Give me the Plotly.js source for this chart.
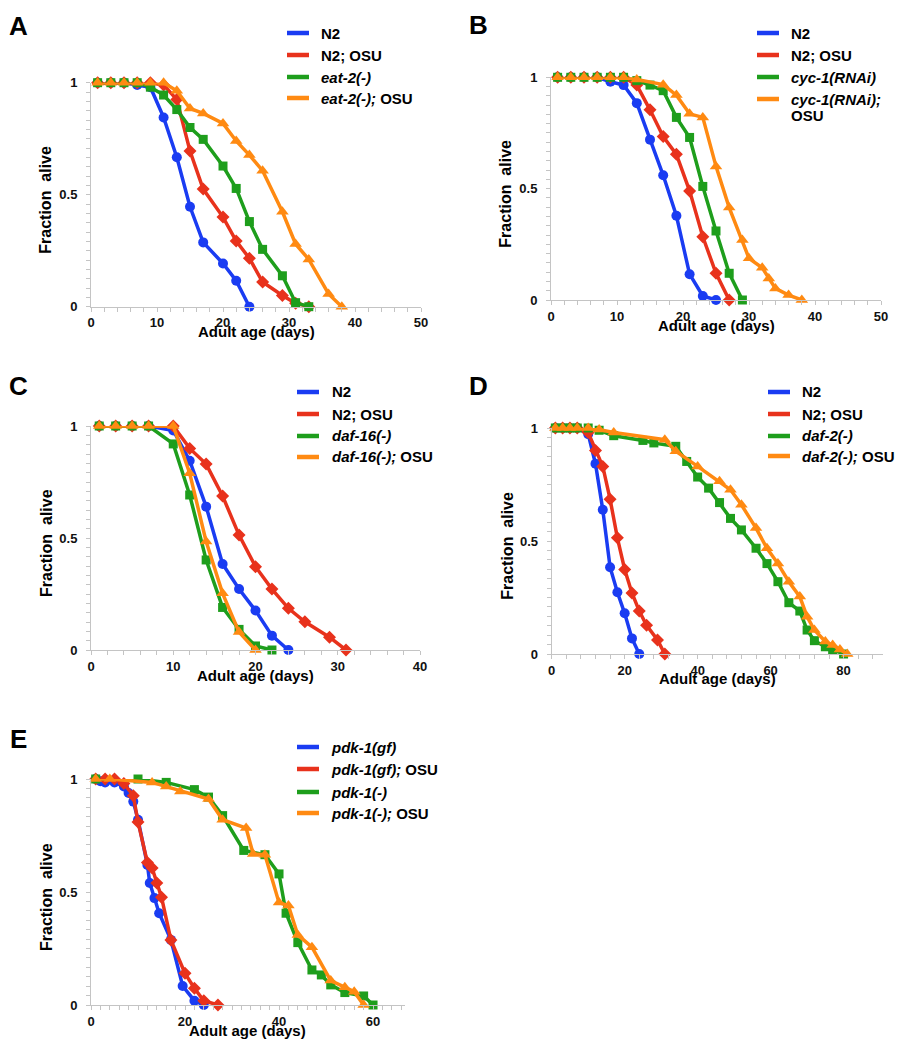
<!DOCTYPE html>
<html>
<head>
<meta charset="utf-8">
<script src="https://cdn.plot.ly/plotly-3.0.1.min.js"></script>
<style>html,body{margin:0;padding:0;background:#fff}#chart{width:905px;height:1050px}</style>
</head>
<body>
<div id="chart"></div>
<script>
// ---------- DATA ----------
// Panel A
const A_N2_days   = [1,3,5,7,9,11,13,15,17,20,22,24];
const A_N2        = [1,1,1,0.99,0.98,0.845,0.667,0.446,0.287,0.193,0.116,0];
const A_N2OSU_days= [1,3,5,7,9,11,13,15,17,20,22,24,26,29,31,33];
const A_N2OSU     = [1,1,1,1,1,0.99,0.925,0.695,0.525,0.40,0.293,0.216,0.11,0.05,0.015,0];
const A_eat_days  = [1,3,5,7,9,11,13,15,17,20,22,24,26,29,31,33];
const A_eat       = [1,1,1,1,0.98,0.945,0.88,0.80,0.747,0.628,0.528,0.38,0.256,0.138,0.018,0];
const A_eatOSU_days=[1,3,5,7,9,11,13,15,17,20,22,24,26,29,31,33,36,38];
const A_eatOSU    = [1,1,1,1,1,1,0.964,0.885,0.863,0.818,0.74,0.677,0.607,0.424,0.28,0.211,0.057,0];
// Panel B
const B_N2_days   = [1,3,5,7,9,11,13,15,17,19,21,23,25];
const B_N2        = [1,1,1,1,0.98,0.965,0.884,0.72,0.56,0.378,0.116,0.018,0];
const B_N2OSU_days= [1,3,5,7,9,11,13,15,17,19,21,23,25,27];
const B_N2OSU     = [1,1,1,1,1,1,0.965,0.854,0.734,0.654,0.49,0.284,0.12,0];
const B_cyc_days  = [1,3,5,7,9,11,13,15,17,19,21,23,25,27,29];
const B_cyc       = [1,1,1,1,1,1,0.985,0.965,0.94,0.82,0.73,0.51,0.31,0.12,0];
const B_cycOSU_days=[1,3,5,7,9,11,13,17,19,21,23,25,27,29,30,32,33,34,36,38];
const B_cycOSU    = [1,1,1,1,1,1,0.99,0.967,0.92,0.836,0.82,0.60,0.415,0.269,0.187,0.145,0.097,0.052,0.022,0];
// Panel C
const C_N2_days   = [1,3,5,7,10,12,14,16,18,20,22,24];
const C_N2        = [1,1,1,1,0.98,0.845,0.64,0.384,0.272,0.176,0.064,0];
const C_N2OSU_days= [1,3,5,7,10,12,14,16,18,20,22,24,26,29,31];
const C_N2OSU     = [1,1,1,1,1,0.90,0.83,0.6875,0.513,0.372,0.272,0.186,0.126,0.057,0];
const C_daf16_days= [1,3,5,7,10,12,14,16,18,20,22];
const C_daf16     = [1,1,1,1,0.92,0.692,0.402,0.19,0.092,0.018,0];
const C_daf16OSU_days=[1,3,5,7,10,12,14,16,18,20];
const C_daf16OSU  = [1,1,1,1,1,0.789,0.484,0.253,0.08,0];
// Panel D
const D_N2_days   = [1,3,5,7,10,12,14,16,18,20,22,24];
const D_N2        = [1,1,1,1,0.973,0.842,0.638,0.384,0.273,0.18,0.069,0];
const D_N2OSU_days= [1,3,5,7,10,12,14,16,18,20,22,24,26,29,31];
const D_N2OSU     = [1,1,1,1,0.98,0.90,0.83,0.685,0.514,0.374,0.27,0.19,0.127,0.062,0];
const D_daf2_days = [1,3,5,7,10,13,17,25,28,34,37,40,43,46,49,52,56,59,62,65,68,70,72,75,77,80];
const D_daf2      = [1,1,1,1,1,0.99,0.966,0.945,0.934,0.919,0.852,0.783,0.734,0.67,0.60,0.549,0.468,0.40,0.32,0.227,0.19,0.106,0.059,0.032,0.018,0];
const D_daf2OSU_days=[1,3,5,7,10,13,17,31,34,40,46,49,52,56,59,62,65,68,70,72,75,77,79,81];
const D_daf2OSU   = [1,1,1,1,1,0.993,0.98,0.948,0.897,0.83,0.764,0.727,0.66,0.557,0.468,0.40,0.32,0.254,0.165,0.106,0.055,0.04,0.02,0];
// Panel E
const E_gf_days   = [1,2,3,5,7,8,9,10,12,12.5,13.5,14.5,17,19.5,22,24];
const E_gf        = [1,0.99,0.985,0.985,0.967,0.938,0.90,0.82,0.62,0.54,0.473,0.406,0.288,0.084,0.019,0];
const E_gfOSU_days= [1,3,5,7,9,10,12,13,14,15,17,20,22,24,27];
const E_gfOSU     = [1,1,1,0.98,0.926,0.81,0.63,0.606,0.54,0.477,0.288,0.14,0.074,0.019,0];
const E_pdk_days  = [1,10,16,22,25,28,32.5,37,40,41.5,44,47,49,51,54,58,60];
const E_pdk       = [1,1,0.985,0.953,0.92,0.838,0.684,0.665,0.58,0.406,0.276,0.155,0.133,0.089,0.055,0.04,0];
const E_pdkOSU_days=[1,4,13,16,19,25,28,33,34.5,37,40,42,44,47,51,54,56,58];
const E_pdkOSU    = [1,1,0.985,0.967,0.945,0.911,0.82,0.783,0.668,0.665,0.453,0.44,0.31,0.256,0.108,0.078,0.059,0];

// Labels
const panelLetters = ['A','B','C','D','E'];
const A_labels = ['N2','N2; OSU','<i>eat-2(-)</i>','<i>eat-2(-);</i> OSU'];
const B_labels = ['N2','N2; OSU','<i>cyc-1(RNAi)</i>','<i>cyc-1(RNAi);</i><br>OSU'];
const C_labels = ['N2','N2; OSU','<i>daf-16(-)</i>','<i>daf-16(-);</i> OSU'];
const D_labels = ['N2','N2; OSU','<i>daf-2(-)</i>','<i>daf-2(-);</i> OSU'];
const E_labels = ['<i>pdk-1(gf)</i>','<i>pdk-1(gf);</i> OSU','<i>pdk-1(-)</i>','<i>pdk-1(-);</i> OSU'];
const yTickVals = [0,0.5,1];
const yTickText = ['0','0.5','1'];
const xTitle = 'Adult age (days)';
const yTitle = 'Fraction  alive';

// ---------- STYLE ----------
const W = 905, H = 1050;
const COLORS = ['#1a3cf2','#e8321c','#1e9e1c','#ff8a12'];
const SYMBOLS = ['circle','diamond','square','triangle-up'];
const SIZES = [10,10,9,11];
const FONT = 'Liberation Sans, Arial, Helvetica, sans-serif';
const px = v => v / W;
const py = v => 1 - v / H;

// panel geometry (pixels): left, right, top(y=1), bottom(y=0)
const panels = [
  {L:91,  R:421, T:82.7, B:306.7, xmax:50,   dtick:10, minor:2, series:[[A_N2_days,A_N2],[A_N2OSU_days,A_N2OSU],[A_eat_days,A_eat],[A_eatOSU_days,A_eatOSU]], labels:A_labels, leg:{x1:287,x2:309,tx:319,ys:[33,55,77,98]}, letter:[18,26]},
  {L:551, R:881, T:77.3, B:300,   xmax:50,   dtick:10, minor:2, series:[[B_N2_days,B_N2],[B_N2OSU_days,B_N2OSU],[B_cyc_days,B_cyc],[B_cycOSU_days,B_cycOSU]], labels:B_labels, leg:{x1:757,x2:779,tx:789,ys:[33,55,77,99]}, letter:[479,25]},
  {L:91,  R:420, T:426,  B:650,   xmax:40,   dtick:10, minor:2, series:[[C_N2_days,C_N2],[C_N2OSU_days,C_N2OSU],[C_daf16_days,C_daf16],[C_daf16OSU_days,C_daf16OSU]], labels:C_labels, leg:{x1:297,x2:319,tx:330,ys:[392,414,436,457]}, letter:[18,386]},
  {L:551.7,R:883, T:428,  B:654,   xmax:90.8, dtick:20, minor:4, series:[[D_N2_days,D_N2],[D_N2OSU_days,D_N2OSU],[D_daf2_days,D_daf2],[D_daf2OSU_days,D_daf2OSU]], labels:D_labels, leg:{x1:768,x2:790,tx:800,ys:[392,414,436,456]}, letter:[479,386]},
  {L:91,  R:405, T:779,  B:1005,  xmax:66.8, dtick:20, minor:2, series:[[E_gf_days,E_gf],[E_gfOSU_days,E_gfOSU],[E_pdk_days,E_pdk],[E_pdkOSU_days,E_pdkOSU]], labels:E_labels, leg:{x1:297,x2:319,tx:329,ys:[747,769,792,813]}, letter:[18,739]}
];

const traces = [];
const layout = {
  width: W, height: H,
  margin: {l:0, r:0, t:0, b:0},
  paper_bgcolor: '#fff', plot_bgcolor: 'rgba(0,0,0,0)',
  showlegend: false,
  annotations: [], shapes: []
};

panels.forEach((p, i) => {
  const n = i === 0 ? '' : String(i + 1);
  const xa = 'xaxis' + n, ya = 'yaxis' + n;
  const tickfont = {family: FONT, size: 13, weight: 700, color: '#111'};
  layout[xa] = {
    domain: [px(p.L), px(p.R)], anchor: 'y' + n, range: [0, p.xmax],
    showline: true, linecolor: '#c4c4c4', linewidth: 1,
    ticks: 'outside', ticklen: 4, tickcolor: '#c4c4c4', tickwidth: 1,
    dtick: p.dtick, tick0: 0, showgrid: false, zeroline: false,
    tickfont: tickfont, ticklabelstandoff: 0,
    minor: {ticks: 'outside', ticklen: 4, tickcolor: '#c4c4c4', dtick: p.minor, tick0: 0, showgrid: false},
    fixedrange: true
  };
  layout[ya] = {
    domain: [py(p.B), py(p.T)], anchor: 'x' + n, range: [0, 1],
    showline: true, linecolor: '#c4c4c4', linewidth: 1,
    ticks: 'outside', ticklen: 4, tickcolor: '#c4c4c4', tickwidth: 1,
    tickmode: 'array', tickvals: yTickVals, ticktext: yTickText,
    showgrid: false, zeroline: false, tickfont: tickfont, ticklabelstandoff: 6,
    minor: {ticks: 'outside', ticklen: 4, tickcolor: '#c4c4c4', dtick: 1/24, tick0: 0, showgrid: false},
    fixedrange: true
  };
  p.series.forEach((s, k) => {
    traces.push({
      x: s[0], y: s[1], xaxis: 'x' + n, yaxis: 'y' + n,
      type: 'scatter', mode: 'lines+markers', cliponaxis: false,
      line: {color: COLORS[k], width: 3.5},
      marker: {symbol: SYMBOLS[k], size: SIZES[k], color: COLORS[k], line: {width: 0}},
      hoverinfo: 'skip'
    });
  });
  // legend
  const legFont = {family: FONT, size: 15, weight: 700, color: '#000'};
  p.labels.forEach((lab, k) => {
    const y = p.leg.ys[k];
    layout.shapes.push({type: 'line', xref: 'paper', yref: 'paper',
      x0: px(p.leg.x1), x1: px(p.leg.x2), y0: py(y), y1: py(y),
      line: {color: COLORS[k], width: 4.5}});
    lab.split('<br>').forEach((part, j) => {
      layout.annotations.push({xref: 'paper', yref: 'paper', x: px(p.leg.tx),
        y: py(y + 16 * j), xanchor: 'left', yanchor: 'middle',
        align: 'left', showarrow: false, text: part, font: legFont});
    });
  });
  // panel letter
  layout.annotations.push({xref: 'paper', yref: 'paper', x: px(p.letter[0]), y: py(p.letter[1]),
    xanchor: 'center', yanchor: 'middle', showarrow: false, text: panelLetters[i],
    font: {family: FONT, size: 26, weight: 700, color: '#000'}});
  // y title
  layout.annotations.push({xref: 'paper', yref: 'paper', x: px(p.L - 45), y: py((p.T + p.B) / 2 + 5),
    xanchor: 'center', yanchor: 'middle', textangle: -90, showarrow: false, text: yTitle,
    font: {family: FONT, size: 16, weight: 700, color: '#000'}});
  // x title
  layout.annotations.push({xref: 'paper', yref: 'paper', x: px((p.L + p.R) / 2), y: py(p.B + 25),
    xanchor: 'center', yanchor: 'middle', showarrow: false, text: xTitle,
    font: {family: FONT, size: 15, weight: 700, color: '#000'}});
});

Plotly.newPlot('chart', traces, layout, {staticPlot: true, displayModeBar: false});
</script>
</body>
</html>
